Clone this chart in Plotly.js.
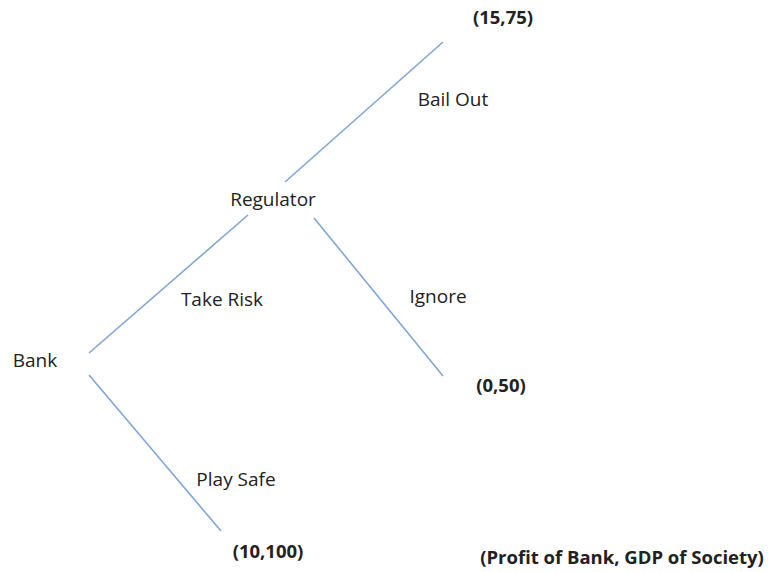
<!DOCTYPE html>
<html>
<head>
<meta charset="utf-8">
<script src="https://cdn.plot.ly/plotly-3.0.1.min.js"></script>
<style>html,body{margin:0;padding:0;background:#fff;}#chart{width:768px;height:572px;}</style>
</head>
<body>
<div id="chart"></div>
<script>
// Branch segments of the game tree (start and end points, diagram units)
const branchNames = ["Take Risk", "Play Safe", "Bail Out", "Ignore"];
const branchX0 = [89, 89, 285, 314];
const branchY0 = [353, 375, 182, 218];
const branchX1 = [248, 221, 443, 443];
const branchY1 = [215, 531, 42, 376];

// Node / action labels
const labelTexts = ["Bank", "Regulator", "Take Risk", "Play Safe", "Bail Out", "Ignore"];
const labelX = [35, 273, 222, 236, 453, 438];
const labelY = [362, 201, 301, 481, 101, 298];

// Payoff labels (bold)
const payoffTexts = ["(15,75)", "(0,50)", "(10,100)", "(Profit of Bank, GDP of Society)"];
const payoffX = [503, 501, 268, 622];
const payoffY = [19, 387, 553, 559];

const traces = branchNames.map((n, i) => ({
  type: "scatter", mode: "lines", name: n,
  x: [branchX0[i], branchX1[i]], y: [branchY0[i], branchY1[i]],
  line: {color: "#7fa6d8", width: 1.6},
  hoverinfo: "skip", showlegend: false
}));

traces.push({
  type: "scatter", mode: "text",
  x: labelX, y: labelY, text: labelTexts,
  textposition: "middle center",
  textfont: {family: "Open Sans, sans-serif", size: 19, color: "#222"},
  hoverinfo: "skip", showlegend: false
});
traces.push({
  type: "scatter", mode: "text",
  x: payoffX, y: payoffY, text: payoffTexts.map(t => "<b>" + t + "</b>"),
  textposition: "middle center",
  textfont: {family: "Open Sans, sans-serif", size: 18.5, color: "#222"},
  hoverinfo: "skip", showlegend: false
});

const layout = {
  width: 768, height: 572,
  margin: {l: 0, r: 0, t: 0, b: 0},
  paper_bgcolor: "#fff", plot_bgcolor: "#fff",
  xaxis: {range: [0, 768], visible: false, fixedrange: true},
  yaxis: {range: [572, 0], visible: false, fixedrange: true},
  showlegend: false
};
Plotly.newPlot("chart", traces, layout, {displayModeBar: false, staticPlot: true});
</script>
</body>
</html>
